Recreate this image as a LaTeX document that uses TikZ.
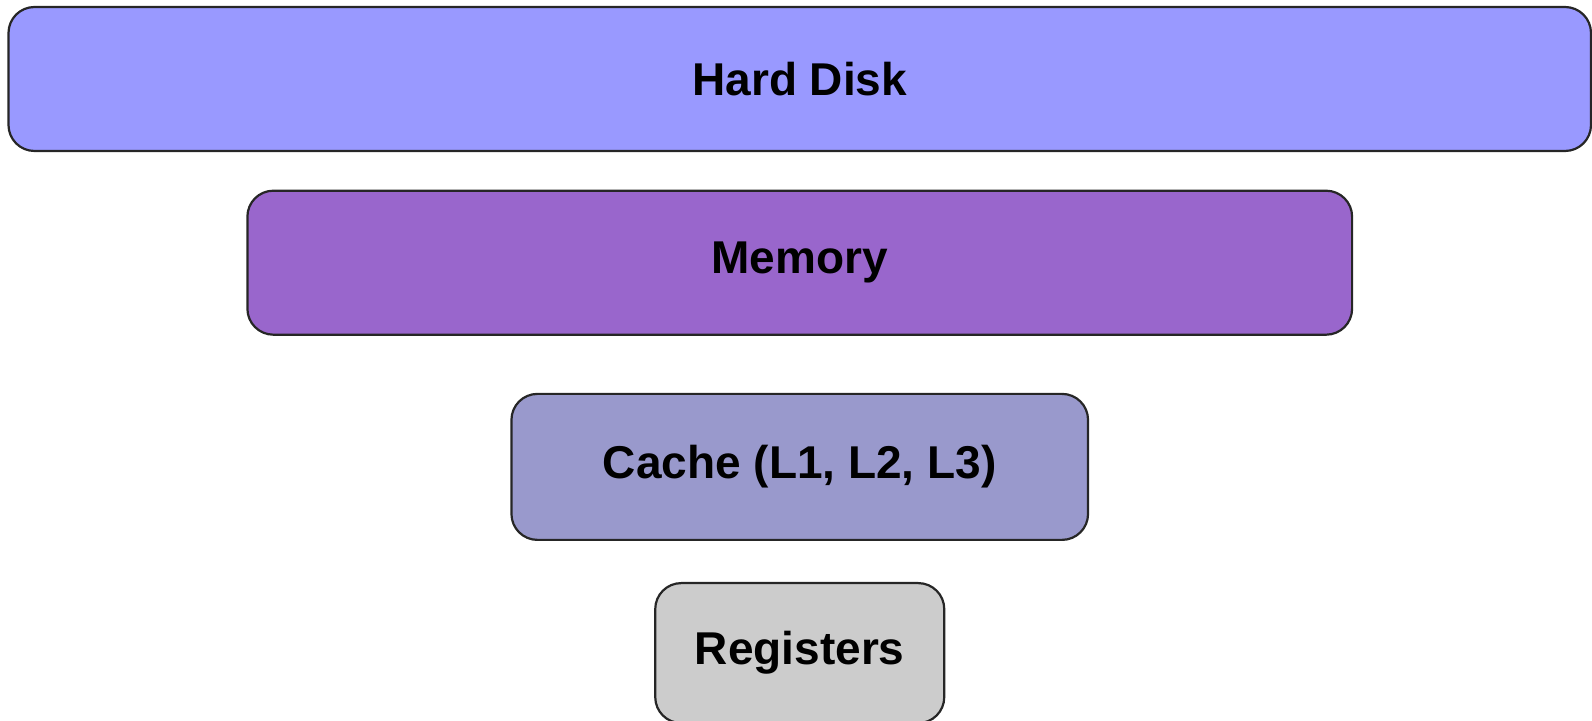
\documentclass[tikz,border=0pt]{standalone}
\usepackage{fontspec}
\setmainfont{Liberation Sans}
\usetikzlibrary{positioning}
\definecolor{diskblue}{HTML}{9999FF}
\definecolor{mempurple}{HTML}{9966CC}
\definecolor{cachegray}{HTML}{9999CC}
\definecolor{reggray}{HTML}{CCCCCC}

\begin{document}
\begin{tikzpicture}[x=0.5pt,y=0.5pt,levelbox/.style={draw=black!85, line width=1.1pt, rounded corners=13pt, inner sep=0pt, font=\fontsize{23}{28}\selectfont\bfseries},]
    \useasboundingbox (0,0) rectangle (1592,-721);
    % nodes
    \node[levelbox, fill=diskblue,  minimum width=791.25pt, minimum height=72pt] (disk)  at (799.75,-79)         {Hard Disk};
    \node[levelbox, fill=mempurple, minimum width=552.35pt, minimum height=72pt] (mem)   [below=18.75pt of disk] {Memory};
    \node[levelbox, fill=cachegray, minimum width=288.3pt,  minimum height=73pt] (cache) [below=28.5pt of mem]   {Cache (L1, L2, L3)};
    \node[levelbox, fill=reggray,   minimum width=144.5pt,  minimum height=70pt] (reg)   [below=20.5pt of cache] {Registers};
\end{tikzpicture}
\end{document}
